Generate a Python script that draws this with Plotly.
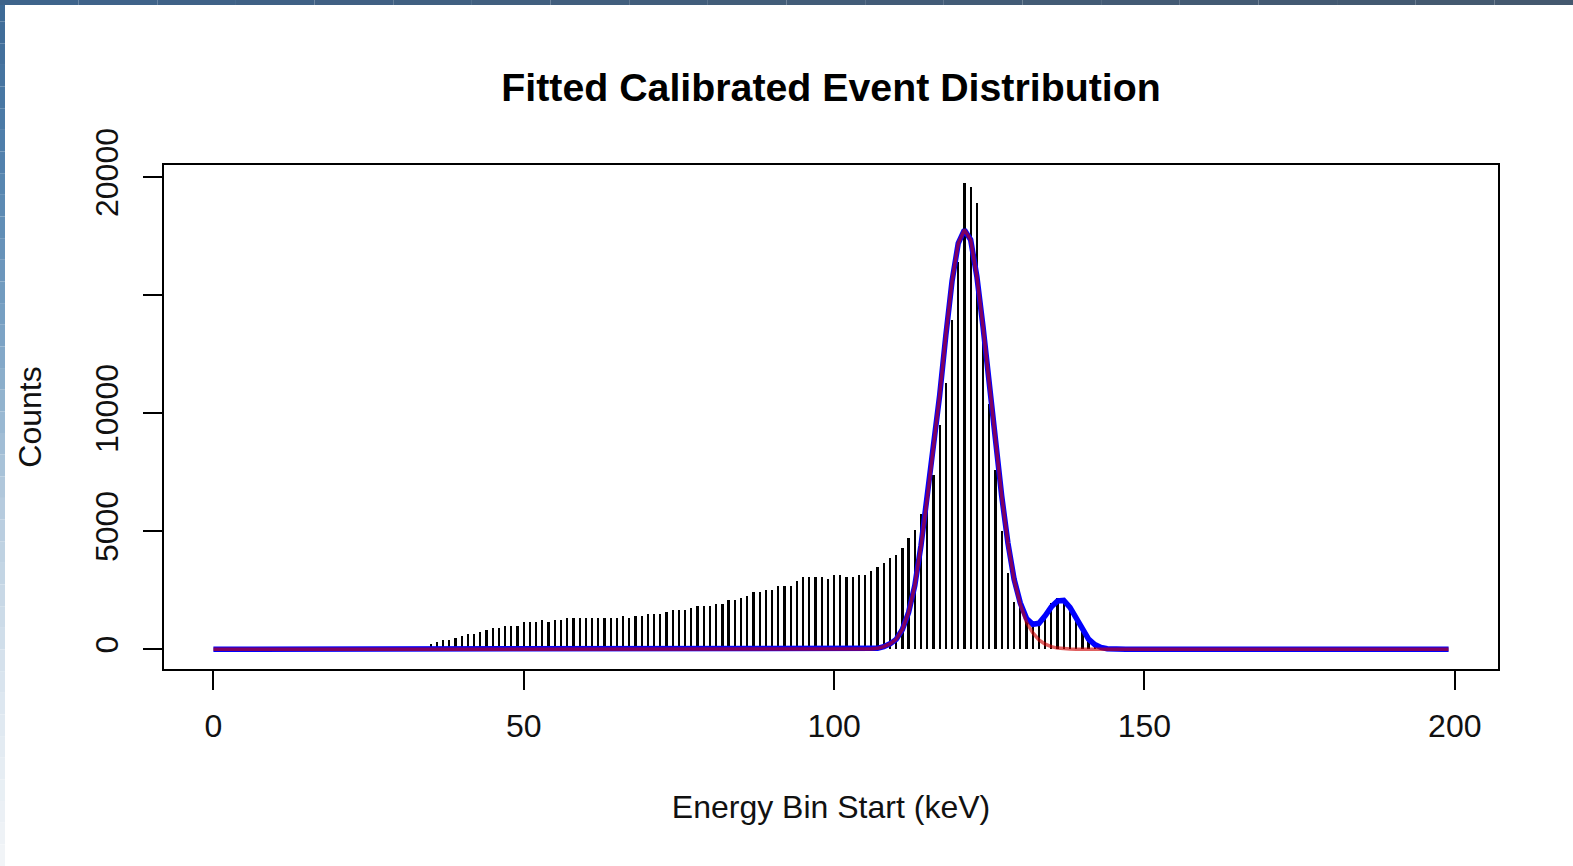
import plotly.graph_objects as go

# ---------------- data ----------------
bin_start = list(range(0, 200))  # keV, energy bin starts

first_nonzero_bin = 35
counts_nonzero = [
    212, 297, 381, 381, 494, 579, 664, 664, 748, 833,          # 35-44
    918, 918, 1003, 1003, 1003, 1172, 1172, 1172, 1257, 1172,  # 45-54
    1257, 1257, 1341, 1341, 1341, 1341, 1341, 1341, 1341, 1341,  # 55-64
    1341, 1426, 1341, 1426, 1426, 1511, 1511, 1511, 1596, 1680,  # 65-74
    1680, 1680, 1765, 1850, 1850, 1850, 1934, 1934, 2104, 2104,  # 75-84
    2189, 2273, 2443, 2443, 2527, 2527, 2697, 2697, 2697, 2895,  # 85-94
    3064, 3064, 3064, 3064, 2979, 3149, 3149, 3064, 3064, 3149,  # 95-104
    3149, 3318, 3488, 3657, 3856, 3996, 4280, 4703, 5055, 5750,  # 105-114
    6500, 7400, 9504, 11271, 13953, 16400, 19771, 19602, 18925, 13300,  # 115-124
    10400, 7600, 5000, 3220, 2017, 1805, 1381, 1102, 1242, 1525,  # 125-134
    1949, 2160, 2090, 1665, 1242, 818, 534, 322, 182, 100,       # 135-144
]

fit_start_bin = 105
# main-peak fit (red), read at each bin start
fit_main_nonzero = [
    0, 10, 40, 110, 230, 420, 840, 1560, 2700, 4400,            # 105-114
    6380, 8500, 10750, 13300, 15600, 17200, 17770, 17350, 15800, 13650,  # 115-124
    11200, 8780, 6500, 4500, 2940, 1900, 1150, 700, 400, 220,   # 125-134
    110, 50, 20, 8, 0, 0, 0, 0, 0, 0, 0,                        # 135-145
]
# total fit (blue), main peak + secondary peak
fit_total_nonzero = [
    0, 10, 40, 110, 230, 420, 840, 1560, 2700, 4400,            # 105-114
    6380, 8500, 10750, 13300, 15600, 17200, 17770, 17350, 15800, 13650,  # 115-124
    11200, 8780, 6500, 4510, 2965, 1960, 1310, 1060, 1100, 1420,  # 125-134
    1800, 2050, 2070, 1780, 1300, 820, 430, 200, 80, 25, 0,     # 135-145
]

x_ticks = [0, 50, 100, 150, 200]
y_ticks = [0, 5000, 10000, 15000, 20000]
y_tick_labels = ["0", "5000", "10000", "", "20000"]

title_text = "Fitted Calibrated Event Distribution"
x_title = "Energy Bin Start (keV)"
y_title = "Counts"

# ---------------- build full series ----------------
n = len(bin_start)


def pad(values, start):
    return [0] * start + values + [0] * (n - start - len(values))


counts = pad(counts_nonzero, first_nonzero_bin)
fit_main = pad(fit_main_nonzero, fit_start_bin)
fit_total = pad(fit_total_nonzero, fit_start_bin)

# ---------------- figure ----------------
W, H = 1573, 866
ML, MR, MT, MB = 164, 75, 165, 197
FONT = "Liberation Sans, Arial, sans-serif"

fig = go.Figure()

fig.add_trace(go.Bar(
    x=bin_start, y=counts, width=0.36,
    marker=dict(color="#000000", line=dict(width=0)),
    showlegend=False, hoverinfo="x+y",
))
fig.add_trace(go.Scatter(
    x=bin_start, y=fit_total, mode="lines",
    line=dict(color="#0000ff", width=5.5),
    showlegend=False,
))
fig.add_trace(go.Scatter(
    x=bin_start, y=fit_main, mode="lines",
    line=dict(color="rgba(205,0,0,0.62)", width=3.5),
    showlegend=False,
))

# decorative window frame (top & left strips of the screenshot)
plot_w = W - ML - MR
plot_h = H - MT - MB


def px_x(p):
    return (p - ML) / plot_w


def px_y(p):
    return (H - MB - p) / plot_h


left_stops = [(0, (60, 104, 148)), (150, (79, 127, 171)), (330, (122, 162, 196)),
              (500, (180, 202, 221)), (700, (221, 231, 240)), (866, (242, 245, 248))]
shapes = []
segs = 40
for i in range(segs):
    y0 = H * i / segs
    y1 = H * (i + 1) / segs
    ym = (y0 + y1) / 2
    for j in range(len(left_stops) - 1):
        a, ca = left_stops[j]
        b, cb = left_stops[j + 1]
        if a <= ym <= b:
            t = (ym - a) / (b - a)
            c = tuple(int(round(ca[k] + (cb[k] - ca[k]) * t)) for k in range(3))
            break
    shapes.append(dict(type="rect", xref="paper", yref="paper",
                       x0=px_x(0), x1=px_x(5), y0=px_y(y1), y1=px_y(y0),
                       fillcolor="rgb(%d,%d,%d)" % c, line=dict(width=0), layer="above"))
top_stops = [(0, (62, 100, 140)), (800, (66, 92, 120)), (1573, (68, 88, 110))]
for i in range(20):
    x0 = W * i / 20
    x1 = W * (i + 1) / 20
    xm = (x0 + x1) / 2
    for j in range(len(top_stops) - 1):
        a, ca = top_stops[j]
        b, cb = top_stops[j + 1]
        if a <= xm <= b:
            t = (xm - a) / (b - a)
            c = tuple(int(round(ca[k] + (cb[k] - ca[k]) * t)) for k in range(3))
            break
    shapes.append(dict(type="rect", xref="paper", yref="paper",
                       x0=px_x(x0), x1=px_x(x1), y0=px_y(5), y1=px_y(0),
                       fillcolor="rgb(%d,%d,%d)" % c, line=dict(width=0), layer="above"))

fig.update_layout(
    width=W, height=H, autosize=False,
    margin=dict(l=ML, r=MR, t=MT, b=MB, pad=0),
    paper_bgcolor="white", plot_bgcolor="white",
    font=dict(family=FONT, size=32, color="#111111"),
    bargap=0,
    title=dict(text="<b>" + title_text + "</b>", font=dict(family=FONT, size=39.3, color="#000000"),
               x=(ML + (W - MR)) / 2 / W, xanchor="center", xref="container",
               y=1 - 87 / H, yanchor="middle", yref="container"),
    shapes=shapes,
)

fig.update_xaxes(
    range=[-7.96, 206.96], tickvals=x_ticks, ticktext=[str(v) for v in x_ticks],
    ticks="outside", ticklen=19, tickwidth=1.5, tickcolor="#000000",
    showline=True, linecolor="#000000", linewidth=1.5, mirror=True,
    showgrid=False, zeroline=False, ticklabelstandoff=9,
    tickfont=dict(family=FONT, size=32, color="#111111"),
    title=dict(text=x_title, font=dict(family=FONT, size=32, color="#111111"), standoff=52),
)
fig.update_yaxes(
    range=[-835, 20521], tickvals=y_ticks, ticktext=y_tick_labels,
    ticks="outside", ticklen=19, tickwidth=1.5, tickcolor="#000000",
    showline=True, linecolor="#000000", linewidth=1.5, mirror=True,
    showgrid=False, zeroline=False, tickangle=-90, ticklabelstandoff=12,
    tickfont=dict(family=FONT, size=32, color="#111111"),
    title=dict(text=y_title, font=dict(family=FONT, size=32, color="#111111"), standoff=38),
)

fig.write_html("out.html", config={"displayModeBar": False},
               post_script="document.body.style.margin='0px';")
